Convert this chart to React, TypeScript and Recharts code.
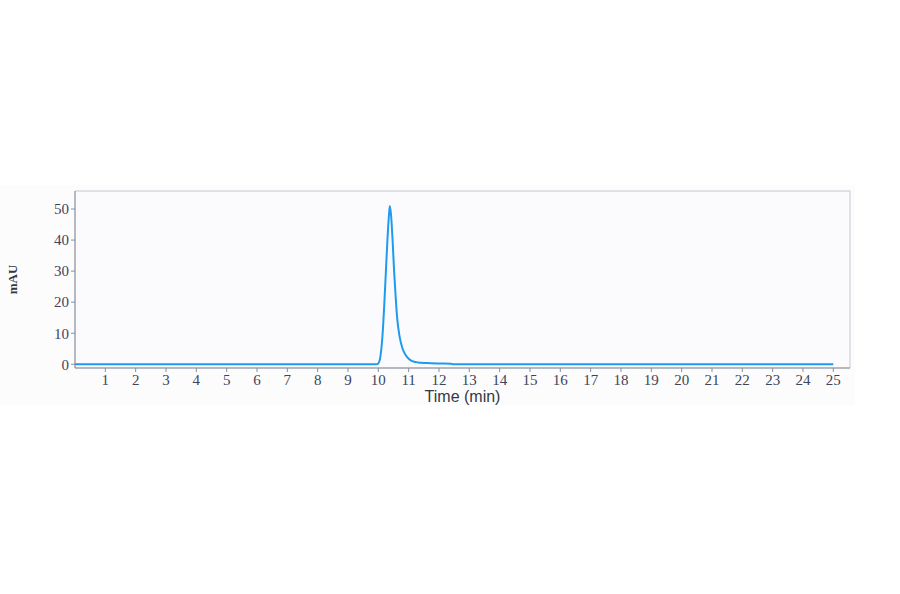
import { LineChart, Line, XAxis, YAxis, ReferenceArea, Label } from "recharts";

const times = [0, 9.95, 10.0, 10.05, 10.1, 10.15, 10.2, 10.25, 10.3, 10.35, 10.38, 10.42, 10.47, 10.52, 10.57, 10.62, 10.7, 10.8, 10.9, 11.0, 11.1, 11.3, 11.6, 12.0, 12.4, 12.45, 25];
const mAU = [0, 0, 0.3, 1.5, 5, 11, 20, 30, 40, 48, 51, 48, 40, 30, 22, 15, 9, 5, 3, 1.8, 1.1, 0.6, 0.4, 0.25, 0.15, 0, 0];
const xTicks = [1, 2, 3, 4, 5, 6, 7, 8, 9, 10, 11, 12, 13, 14, 15, 16, 17, 18, 19, 20, 21, 22, 23, 24, 25];
const yTicks = [0, 10, 20, 30, 40, 50];

const data = times.map((t, i) => ({ t, v: mAU[i] }));

const tickStyle = { fontSize: 15, fill: "#3d4459", fontFamily: "Liberation Serif" };

export default function App() {
  return (
    <div style={{ position: "absolute", left: 0, top: 0, width: 900, height: 594, background: "#fff" }}>
      <div style={{ position: "absolute", left: 0, top: 185, width: 855, height: 220, background: "#fcfcfd" }} />
      <div style={{ position: "absolute", left: 0, top: 0 }}>
        <LineChart
          width={900}
          height={594}
          data={data}
          margin={{ top: 191, right: 50, bottom: 196, left: 15 }}
        >
          <ReferenceArea
            x1={0}
            x2={25.55}
            y1={-1.2}
            y2={55.8}
            fill="#fbfbfd"
            fillOpacity={1}
            stroke="#c3c7cf"
            strokeWidth={1}
            ifOverflow="extendDomain"
          />
          <XAxis
            dataKey="t"
            type="number"
            domain={[0, 25.55]}
            ticks={xTicks}
            interval={0}
            height={30}
            tick={tickStyle}
            tickLine={{ stroke: "#8a8f9c" }}
            tickSize={4}
            axisLine={{ stroke: "#8a8f9c" }}
            allowDataOverflow
          >
            <Label
              value="Time (min)"
              position="insideBottom"
              offset={-4}
              style={{ fontSize: 16, fill: "#333846", fontFamily: "Liberation Sans" }}
            />
          </XAxis>
          <YAxis
            type="number"
            domain={[-1.2, 55.8]}
            ticks={yTicks}
            width={60}
            tick={tickStyle}
            tickLine={{ stroke: "#8a8f9c" }}
            tickSize={4}
            axisLine={{ stroke: "#8a8f9c" }}
            allowDataOverflow
          >
            <Label
              value="mAU"
              angle={-90}
              position="insideLeft"
              offset={-3}
              style={{ fontSize: 13, fill: "#333846", fontFamily: "Liberation Serif", fontWeight: 600, textAnchor: "middle" }}
            />
          </YAxis>
          <Line
            dataKey="v"
            type="monotone"
            stroke="#1e9bf0"
            strokeWidth={2}
            dot={false}
            isAnimationActive={false}
          />
        </LineChart>
      </div>
    </div>
  );
}
